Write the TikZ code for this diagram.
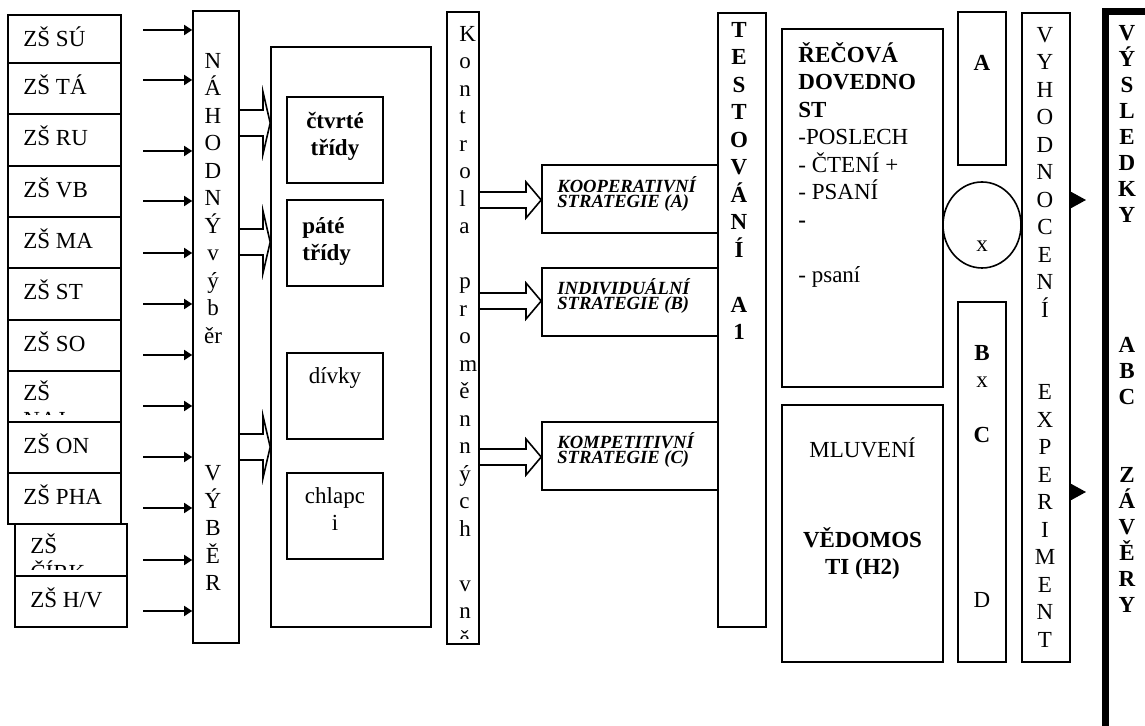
\documentclass[tikz,border=0pt]{standalone}
\usepackage{fontspec}
\setmainfont{Liberation Serif}
\usetikzlibrary{arrows.meta,positioning,shapes.geometric,fit}
\newcommand{\fl}{\rule{0pt}{11pt}}

\begin{document}
\begin{tikzpicture}[x=0.5pt,y=-0.5pt,
  every node/.style={font=\fontsize{11.5}{13.75}\selectfont},
  fb/.style={font=\fontsize{11.5}{13.75}\selectfont\bfseries},
  fi/.style={font=\fontsize{9.3}{7.8}\selectfont\bfseries\itshape},
  box/.style={draw,line width=.8pt,inner sep=0pt},
  t/.style={inner sep=0pt,align=center,anchor=north,yshift=11pt},
  tl/.style={inner sep=0pt,align=left,anchor=north west,yshift=11pt},
  a/.style={-{Triangle[length=4pt,width=5pt]},line width=.8pt},
  h/.style={line width=.8pt,line join=miter}]
\useasboundingbox (0,0) rectangle (1145,726);

% columns
\node[box,fit={(193,11) (239,643)}] (nah) {};
\node[t] at (213,68) {\fl N\\Á\\H\\O\\D\\N\\Ý\\v\\ý\\b\\ěr\\[55pt]V\\Ý\\B\\Ě\\R};
\node[box,fit={(447,12) (479,644)}] (kon) {};
\begin{scope}
\clip (kon.north west) rectangle ([yshift=3pt]kon.south east);
\node[tl] at (459,41) {\fl K\\o\\n\\t\\r\\o\\l\\a\\[13.75pt]p\\r\\o\\m\\ě\\n\\n\\ý\\c\\h\\[13.75pt]v\\n\\ě\\j\\š\\í\\c\\h};
\end{scope}
\node[box,fit={(718,13) (766,627)}] (test) {};
\node[t,fb] at (739,37) {\fl T\\E\\S\\T\\O\\V\\Á\\N\\Í\\[13.75pt]A\\1};

% skoly
\foreach \n/\y/\b/\s in {1/15/63/SÚ,2/63/114/TÁ,3/114/166/RU,4/166/217/VB,5/217/268/MA,6/268/320/ST,7/320/371/SO,9/422/473/ON,10/473/524/PHA}
  {\node[box,fit={(8,\y) (121,\b)}] (s\n) {};
   \node[tl] at (23,\y+31) {\fl ZŠ \s};}
\node[box,fit={(8,371) (121,422)}] (s8) {};
\node[box,fit={(15,524) (127,576)}] (s11) {};
\node[box,fit={(15,576) (127,627)}] (s12) {};
\node[tl] at (30,607) {\fl ZŠ H/V};
\begin{scope}
\clip (8,371) rectangle (121,415);
\node[tl] at (23,400) {\fl ZŠ\\NAJ};
\end{scope}
\begin{scope}
\clip (15,524) rectangle (127,569);
\node[tl] at (30,553) {\fl ZŠ\\ČÍRK};
\end{scope}
\foreach \y in {30,80,151,201,253,304,355,406,457,508,560,611}
  \draw[a] (143,\y) -- (nah.west |- 143,\y);

% tridy
\node[box,fit={(271,47) (431,627)}] (gr) {};
\node[box,fit={(287,97) (383,183)}] (g1) {};
\node[box,fit={(287,200) (383,286)}] (g2) {};
\node[box,fit={(287,353) (383,439)}] (g3) {};
\node[box,fit={(287,473) (383,559)}] (g4) {};
\node[t,fb] at (g1.center |- 0,128) {\fl čtvrté\\třídy};
\node[tl,fb] at (302,233) {\fl páté\\třídy};
\node[t] at (g3.center |- 0,383) {\fl dívky};
\node[t] at (g4.center |- 0,503) {\fl chlapc\\i};
\foreach \c in {123,242,447}
  \draw[h] (nah.east |- 0,\c-13) -- (263,\c-13) -- (263,\c-31) -- (gr.west |- 0,\c)
    -- (263,\c+31) -- (263,\c+13) -- (nah.east |- 0,\c+13);

% strategie
\node[box,fit={(542,165) (718,233)}] (st1) {};
\node[box,fit={(542,268) (718,336)}] (st2) {};
\node[box,fit={(542,422) (718,490)}] (st3) {};
\node[tl,fi] at (557,192) {\fl KOOPERATIVNÍ\\STRATEGIE (A)};
\node[tl,fi] at (557,294) {\fl INDIVIDUÁLNÍ\\STRATEGIE (B)};
\node[tl,fi] at (557,448) {\fl KOMPETITIVNÍ\\STRATEGIE (C)};
\foreach \c/\k in {200/st1,301/st2,457/st3}
  \draw[h] (kon.east |- 0,\c-8) -- (526,\c-8) -- (526,\c-18) -- (\k.west |- 0,\c)
    -- (526,\c+18) -- (526,\c+8) -- (kon.east |- 0,\c+8);

% dovednosti
\node[box,fit={(782,29) (943,387)}] (rec) {};
\node[tl] at (798,62) {\fl\textbf{ŘEČOVÁ}\\\textbf{DOVEDNO}\\\textbf{ST}\\-POSLECH\\- ČTENÍ +\\- PSANÍ\\\textbf{-}\\[13.75pt]- psaní};
\node[box,fit={(782,405) (943,662)}] (mlu) {};
\node[t] at (mlu.center |- 0,457) {\fl MLUVENÍ};
\node[t,fb] at (mlu.center |- 0,547) {\fl VĚDOMOS\\TI (H2)};

% A x B C D
\node[box,fit={(958,12) (1006,165)}] (ba) {};
\node[t,fb] at (982,70) {\fl A};
\node[box,ellipse,minimum width=39pt,minimum height=43pt] (circ) at (982,225) {};
\node[t] at (982,251) {\fl x};
\node[box,fit={(958,302) (1006,662)}] (bb) {};
\node[t] at (982,360) {\fl\textbf{B}\\x\\[13.75pt]\textbf{C}\\[68.75pt]D};

% vyhodnoceni
\node[box,fit={(1022,13) (1070,662)}] (vyh) {};
\node[t] at (1045,42) {\fl V\\Y\\H\\O\\D\\N\\O\\C\\E\\N\\Í\\[27.5pt]E\\X\\P\\E\\R\\I\\M\\E\\N\\T};
\coordinate (r1) at (1086,200);
\coordinate (r2) at (1086,492);
\draw[-{Triangle[length=7.5pt,width=8pt]},line width=.8pt] (vyh.east |- r1) -- (r1);
\draw[-{Triangle[length=7.5pt,width=8pt]},line width=.8pt] (vyh.east |- r2) -- (r2);

% vysledky
\node[draw,line width=3.5pt,inner sep=0pt,fit={(1105,12) (1220,800)}] (vys) {};
\node[t,font=\fontsize{11.5}{13}\selectfont\bfseries] at (1127,40) {\fl V\\Ý\\S\\L\\E\\D\\K\\Y\\[52pt]A\\B\\C\\[26pt]Z\\Á\\V\\Ě\\R\\Y};
\end{tikzpicture}
\end{document}
